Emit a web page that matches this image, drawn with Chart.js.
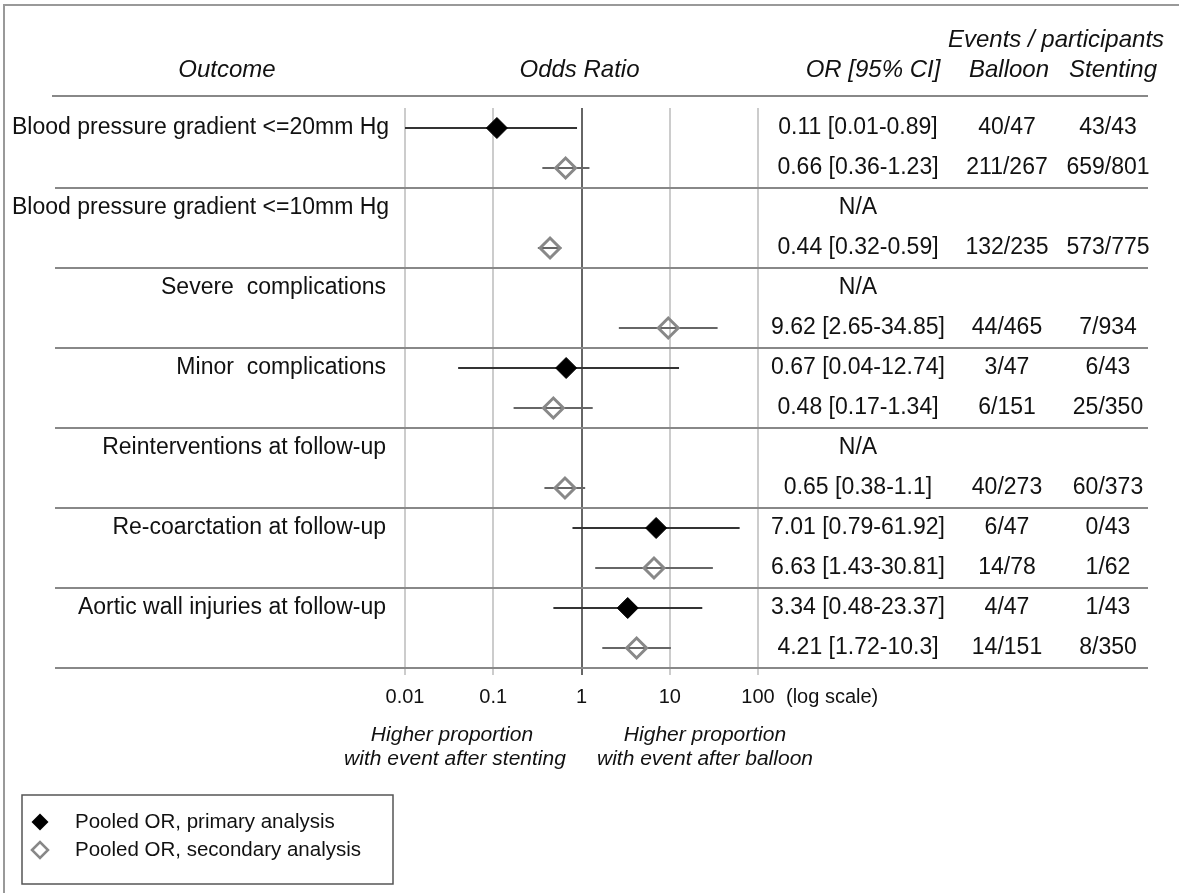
<!DOCTYPE html>
<html lang="en">
<head>
  <meta charset="UTF-8" />
  <title>Forest plot - balloon vs stenting</title>
  <script src="https://cdn.jsdelivr.net/npm/chart.js"></script>
  <style>
    html, body { margin: 0; padding: 0; background: #fff; }
    .chart-wrapper { width: 1179px; height: 893px; }
  </style>
</head>
<body>
<div class="chart-wrapper">
  <canvas id="forestChart" width="1179" height="893"></canvas>
</div>

<script>
  // one outcome per pair of rows: primary analysis on top, secondary below
  const outcomes = [
    'Blood pressure gradient <=20mm Hg',
    'Blood pressure gradient <=10mm Hg',
    'Severe  complications',
    'Minor  complications',
    'Reinterventions at follow-up',
    'Re-coarctation at follow-up',
    'Aortic wall injuries at follow-up'
  ];
  const primaryOR   = [0.11, null, null, 0.67, null, 7.01, 3.34];
  const primaryLow  = [0.01, null, null, 0.04, null, 0.79, 0.48];
  const primaryHigh = [0.89, null, null, 12.74, null, 61.92, 23.37];
  const primaryBalloon  = ['40/47', null, null, '3/47', null, '6/47', '4/47'];
  const primaryStenting = ['43/43', null, null, '6/43', null, '0/43', '1/43'];

  const secondaryOR   = [0.66, 0.44, 9.62, 0.48, 0.65, 6.63, 4.21];
  const secondaryLow  = [0.36, 0.32, 2.65, 0.17, 0.38, 1.43, 1.72];
  const secondaryHigh = [1.23, 0.59, 34.85, 1.34, 1.1, 30.81, 10.3];
  const secondaryBalloon  = ['211/267', '132/235', '44/465', '6/151', '40/273', '14/78', '14/151'];
  const secondaryStenting = ['659/801', '573/775', '7/934', '25/350', '60/373', '1/62', '8/350'];

  const xTicks = [0.01, 0.1, 1, 10, 100];

  const FONT = '"Liberation Sans", Arial, sans-serif';

  // rows: primary at y = 2i+1, secondary at y = 2i+2
  const primaryPoints = [];
  const secondaryPoints = [];
  outcomes.forEach((o, i) => {
    if (primaryOR[i] !== null) primaryPoints.push({ x: primaryOR[i], y: 2 * i + 1 });
    secondaryPoints.push({ x: secondaryOR[i], y: 2 * i + 2 });
  });

  function txt(ctx, s, x, y, align, font) {
    ctx.font = font;
    ctx.textAlign = align;
    ctx.textBaseline = 'middle';
    ctx.fillText(s, x, y);
  }

  function hLine(ctx, x1, x2, y, color, w) {
    ctx.beginPath();
    ctx.strokeStyle = color;
    ctx.lineWidth = w;
    ctx.moveTo(x1, y);
    ctx.lineTo(x2, y);
    ctx.stroke();
  }

  function diamond(ctx, x, y, r, fill, stroke, w) {
    ctx.beginPath();
    ctx.moveTo(x - r, y);
    ctx.lineTo(x, y - r);
    ctx.lineTo(x + r, y);
    ctx.lineTo(x, y + r);
    ctx.closePath();
    if (fill) { ctx.fillStyle = fill; ctx.fill(); }
    if (stroke) { ctx.strokeStyle = stroke; ctx.lineWidth = w; ctx.stroke(); }
  }

  const forestExtras = {
    id: 'forestExtras',
    beforeDatasetsDraw(chart) {
      const ctx = chart.ctx;
      const xs = chart.scales.x, ys = chart.scales.y;
      ctx.save();
      outcomes.forEach((o, i) => {
        if (primaryOR[i] !== null) {
          hLine(ctx, xs.getPixelForValue(primaryLow[i]), xs.getPixelForValue(primaryHigh[i]),
            ys.getPixelForValue(2 * i + 1), '#333', 2);
        }
        hLine(ctx, xs.getPixelForValue(secondaryLow[i]), xs.getPixelForValue(secondaryHigh[i]),
          ys.getPixelForValue(2 * i + 2), '#666', 2);
      });
      ctx.restore();
    },
    afterDraw(chart) {
      const ctx = chart.ctx;
      const xs = chart.scales.x, ys = chart.scales.y;
      const right = 1148;
      ctx.save();

      // outer frame (top and left only)
      ctx.beginPath();
      ctx.strokeStyle = '#999';
      ctx.lineWidth = 2;
      ctx.moveTo(4, chart.height);
      ctx.lineTo(4, 5);
      ctx.lineTo(chart.width, 5);
      ctx.stroke();

      // header
      ctx.fillStyle = '#111';
      const hFont = 'italic 24px ' + FONT;
      txt(ctx, 'Outcome', 227, 70, 'center', hFont);
      txt(ctx, 'Odds Ratio', xs.getPixelForValue(1) - 2, 70, 'center', hFont);
      txt(ctx, 'OR [95% CI]', 873, 70, 'center', hFont);
      txt(ctx, 'Events / participants', 1056, 40, 'center', hFont);
      txt(ctx, 'Balloon', 1009, 70, 'center', hFont);
      txt(ctx, 'Stenting', 1113, 70, 'center', hFont);
      hLine(ctx, 52, right, ys.getPixelForValue(0.2), '#888', 2);

      // separators between outcomes
      for (let i = 1; i <= outcomes.length; i++) {
        hLine(ctx, 55, right, ys.getPixelForValue(2 * i + 0.5), '#888', 2);
      }

      // table text
      const rFont = '23px ' + FONT;
      ctx.fillStyle = '#111';
      outcomes.forEach((o, i) => {
        const y1 = ys.getPixelForValue(2 * i + 1);
        const y2 = ys.getPixelForValue(2 * i + 2);
        if (i < 2) txt(ctx, o, 12, y1, 'left', rFont);
        else txt(ctx, o, 386, y1, 'right', rFont);
        if (primaryOR[i] === null) {
          txt(ctx, 'N/A', 858, y1, 'center', rFont);
        } else {
          txt(ctx, primaryOR[i] + ' [' + primaryLow[i] + '-' + primaryHigh[i] + ']', 858, y1, 'center', rFont);
          txt(ctx, primaryBalloon[i], 1007, y1, 'center', rFont);
          txt(ctx, primaryStenting[i], 1108, y1, 'center', rFont);
        }
        txt(ctx, secondaryOR[i] + ' [' + secondaryLow[i] + '-' + secondaryHigh[i] + ']', 858, y2, 'center', rFont);
        txt(ctx, secondaryBalloon[i], 1007, y2, 'center', rFont);
        txt(ctx, secondaryStenting[i], 1108, y2, 'center', rFont);
      });

      // axis notes
      txt(ctx, '(log scale)', 786, 697, 'left', '20px ' + FONT);
      const nFont = 'italic 21px ' + FONT;
      txt(ctx, 'Higher proportion', 452, 735, 'center', nFont);
      txt(ctx, 'with event after stenting', 455, 759, 'center', nFont);
      txt(ctx, 'Higher proportion', 705, 735, 'center', nFont);
      txt(ctx, 'with event after balloon', 705, 759, 'center', nFont);

      // legend
      ctx.strokeStyle = '#555';
      ctx.lineWidth = 1.5;
      ctx.strokeRect(22, 795, 371, 89);
      diamond(ctx, 40, 822, 8.5, '#000', null, 0);
      diamond(ctx, 40, 850, 8, null, '#888', 2.5);
      ctx.fillStyle = '#111';
      txt(ctx, 'Pooled OR, primary analysis', 75, 822, 'left', '20.5px ' + FONT);
      txt(ctx, 'Pooled OR, secondary analysis', 75, 850, 'left', '20.5px ' + FONT);

      ctx.restore();
    }
  };

  const config = {
    type: 'scatter',
    data: {
      datasets: [
        {
          label: 'Pooled OR, primary analysis',
          data: primaryPoints,
          pointStyle: 'rectRot',
          pointRadius: 10.5,
          backgroundColor: '#000',
          borderColor: '#000',
          borderWidth: 1
        },
        {
          label: 'Pooled OR, secondary analysis',
          data: secondaryPoints,
          pointStyle: 'rectRot',
          pointRadius: 10,
          backgroundColor: 'rgba(0,0,0,0)',
          borderColor: '#888',
          borderWidth: 3
        }
      ]
    },
    options: {
      responsive: false,
      animation: false,
      layout: { padding: { left: 405, right: 421, top: 108, bottom: 0 } },
      plugins: { legend: { display: false }, tooltip: { enabled: false } },
      scales: {
        x: {
          type: 'logarithmic',
          min: 0.01,
          max: 100,
          afterBuildTicks(scale) { scale.ticks = xTicks.map(v => ({ value: v })); },
          afterFit(scale) { scale.height = 893 - 668; },
          border: { display: false },
          grid: {
            color: ctx => (ctx.tick && ctx.tick.value === 1 ? '#666' : '#ccc'),
            lineWidth: 2,
            drawTicks: true,
            tickLength: 7
          },
          ticks: {
            padding: 10,
            color: '#111',
            font: { family: FONT, size: 20 },
            maxRotation: 0,
            autoSkip: false,
            callback: v => String(v)
          }
        },
        y: {
          type: 'linear',
          display: false,
          reverse: true,
          min: 0.5,
          max: 14.5
        }
      }
    },
    plugins: [forestExtras]
  };

  new Chart(document.getElementById('forestChart').getContext('2d'), config);
</script>
</body>
</html>
